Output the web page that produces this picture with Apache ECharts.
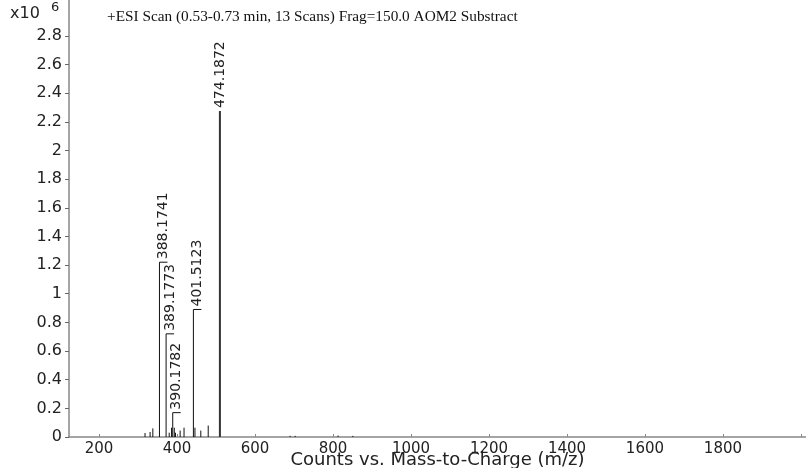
<!DOCTYPE html>
<html>
<head>
<meta charset="utf-8">
<script src="https://cdn.jsdelivr.net/npm/echarts@6/dist/echarts.min.js"></script>
<style>
  html, body { margin: 0; padding: 0; background: #fff; }
  #chart { width: 806px; height: 468px; }
</style>
</head>
<body>
<div id="chart"></div>
<script>
// peaks (m/z position as drawn, counts in x10^6)
const peakMz = [318, 331, 338, 355, 372, 380, 386, 389, 393, 396, 408, 418, 442, 446, 461, 480, 510, 690, 703, 813, 851];
const peakCounts = [0.028, 0.035, 0.06, 1.22, 0.72, 0.03, 0.065, 0.17, 0.065, 0.03, 0.045, 0.065, 0.89, 0.065, 0.045, 0.08, 2.275, 0.008, 0.008, 0.01, 0.008];
const peakLabels = ['', '', '', '388.1741', '389.1773', '', '', '390.1782', '', '', '', '', '401.5123', '', '', '', '474.1872', '', '', '', ''];

const xTicks = [200, 400, 600, 800, 1000, 1200, 1400, 1600, 1800];
const xTickMarks = [200, 400, 600, 800, 1000, 1200, 1400, 1600, 1800, 2000];
const yTicks = [0, 0.2, 0.4, 0.6, 0.8, 1, 1.2, 1.4, 1.6, 1.8, 2, 2.2, 2.4, 2.6, 2.8];

const titleText = '+ESI Scan (0.53-0.73 min, 13 Scans) Frag=150.0 AOM2 Substract';
const xName = 'Counts vs. Mass-to-Charge (m/z)';

const chart = echarts.init(document.getElementById('chart'));
const maxCount = Math.max(...peakCounts);

const seriesData = peakMz.map((mz, i) => [mz, peakCounts[i]]);

const renderPeak = (params, api) => {
  const mz = api.value(0);
  const counts = api.value(1);
  const label = peakLabels[params.dataIndex];
  const isBase = counts === maxCount;
  const base = api.coord([mz, 0]);
  const top = api.coord([mz, counts]);
  const children = [{
    type: 'line',
    shape: { x1: base[0], y1: base[1], x2: top[0], y2: top[1] },
    style: { stroke: isBase ? '#333' : '#111', lineWidth: isBase ? 2 : 1 }
  }];
  if (label) {
    const dx = isBase ? 0 : 4;
    if (!isBase) {
      children.push({
        type: 'line',
        shape: { x1: top[0], y1: top[1], x2: top[0] + 8, y2: top[1] },
        style: { stroke: '#111', lineWidth: 1 }
      });
    }
    children.push({
      type: 'text',
      x: top[0] + dx,
      y: top[1] - 3,
      rotation: Math.PI / 2,
      style: {
        text: label,
        fill: '#222',
        fontFamily: 'DejaVu Sans',
        fontSize: 14,
        align: 'left',
        verticalAlign: 'middle'
      }
    });
  }
  return { type: 'group', children };
};

const option = {
  backgroundColor: '#fff',
  animation: false,
  title: {
    text: titleText,
    left: 107,
    top: 9,
    padding: 0,
    textStyle: {
      fontFamily: 'Liberation Serif',
      fontSize: 15.3,
      fontWeight: 'normal',
      color: '#111'
    }
  },
  graphic: [
    {
      type: 'text',
      left: 10,
      top: 6,
      style: { text: 'x10', fontFamily: 'DejaVu Sans', fontSize: 16, fill: '#222' }
    },
    {
      type: 'text',
      left: 51,
      top: 1,
      style: { text: '6', fontFamily: 'DejaVu Sans', fontSize: 13, fill: '#222' }
    }
  ],
  grid: {
    left: 69,
    right: 0,
    top: 0,
    bottom: 31,
    containLabel: false,
    outerBoundsMode: 'none'
  },
  xAxis: {
    type: 'value',
    min: 123,
    max: 2013,
    name: xName,
    nameLocation: 'middle',
    nameGap: 14,
    nameMoveOverlap: false,
    nameTextStyle: {
      fontFamily: 'DejaVu Sans',
      fontSize: 18,
      color: '#222'
    },
    splitLine: { show: false },
    axisLine: { lineStyle: { color: '#888', width: 1.5 } },
    axisTick: {
      inside: true,
      length: 3,
      customValues: xTickMarks,
      lineStyle: { color: '#888' }
    },
    axisLabel: {
      customValues: xTicks,
      margin: 5,
      fontFamily: 'DejaVu Sans',
      fontSize: 15,
      color: '#222',
      formatter: v => String(v)
    }
  },
  yAxis: {
    type: 'value',
    min: 0,
    max: 3.05,
    splitLine: { show: false },
    axisLine: { show: true, lineStyle: { color: '#888', width: 1.5 } },
    axisTick: {
      show: true,
      length: 4,
      customValues: yTicks,
      lineStyle: { color: '#666' }
    },
    axisLabel: {
      customValues: yTicks,
      margin: 7,
      fontFamily: 'DejaVu Sans',
      fontSize: 16,
      color: '#222',
      formatter: v => String(Math.round(v * 10) / 10)
    }
  },
  series: [
    {
      type: 'custom',
      renderItem: renderPeak,
      data: seriesData,
      encode: { x: 0, y: 1 },
      clip: false
    }
  ]
};

chart.setOption(option);
</script>
</body>
</html>
